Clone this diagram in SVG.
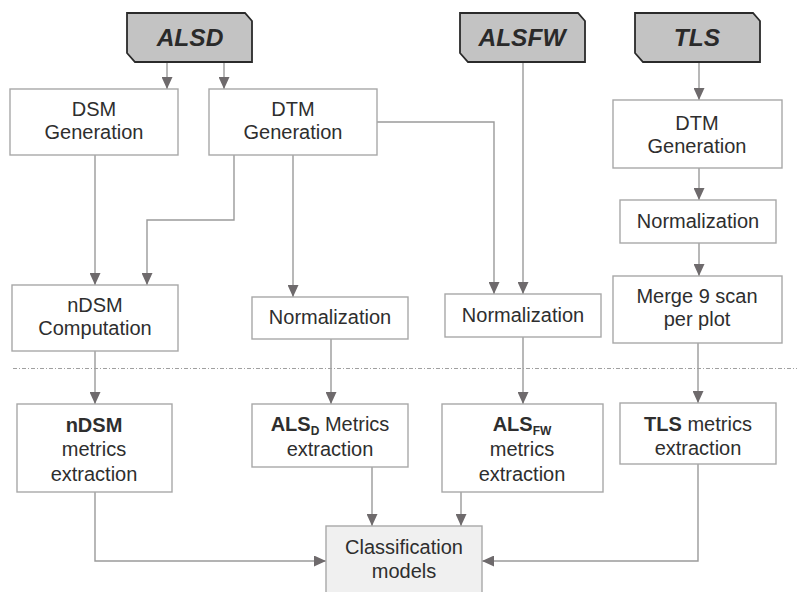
<svg xmlns="http://www.w3.org/2000/svg" width="797" height="592" viewBox="0 0 797 592">
<defs>
<style>
.box{fill:#fff;stroke:#a8a8a8;stroke-width:1.4}
.cls{fill:#f0f0f0;stroke:#a8a8a8;stroke-width:1.4}
.src{fill:#c3c3c3;stroke:#2a2a2a;stroke-width:1.8}
.t{font-family:"Liberation Sans",Arial,sans-serif;font-size:20px;fill:#2e2e2e;text-anchor:middle}
.b{font-weight:bold}
.st{font-family:"Liberation Sans",Arial,sans-serif;font-size:24.5px;font-weight:bold;font-style:italic;fill:#2a2a2a;text-anchor:middle}
.c{fill:none;stroke:#9a9a9a;stroke-width:1.4}
</style>
<marker id="ah" viewBox="0 0 12 11" refX="12" refY="5.5" markerWidth="12" markerHeight="11" markerUnits="userSpaceOnUse" orient="auto">
<path d="M0,0 L12,5.5 L0,11 Z" fill="#6e6a6c"/>
</marker>
</defs>
<rect width="797" height="592" fill="#fff"/>

<g id="connectors">
<path class="c" d="M167,62 V89" marker-end="url(#ah)"/>
<path class="c" d="M224,62 V89" marker-end="url(#ah)"/>
<path class="c" d="M699,62 V100" marker-end="url(#ah)"/>
<path class="c" d="M523,62 V294" marker-end="url(#ah)"/>
<path class="c" d="M377,122 H494 V294" marker-end="url(#ah)"/>
<path class="c" d="M95,155 V285" marker-end="url(#ah)"/>
<path class="c" d="M234,155 V220 H147 V285" marker-end="url(#ah)"/>
<path class="c" d="M293,155 V297" marker-end="url(#ah)"/>
<path class="c" d="M699,168 V200" marker-end="url(#ah)"/>
<path class="c" d="M699,243 V276" marker-end="url(#ah)"/>
<path class="c" d="M95,351 V404" marker-end="url(#ah)"/>
<path class="c" d="M331,339 V404" marker-end="url(#ah)"/>
<path class="c" d="M523,337 V404" marker-end="url(#ah)"/>
<path class="c" d="M698,343 V403" marker-end="url(#ah)"/>
<path class="c" d="M372,467 V526" marker-end="url(#ah)"/>
<path class="c" d="M461,492 V526" marker-end="url(#ah)"/>
<path class="c" d="M95,492 V561 H326" marker-end="url(#ah)"/>
<path class="c" d="M698,464 V561 H482" marker-end="url(#ah)"/>
<line x1="13" y1="368.5" x2="797" y2="368.5" stroke="#a0a0a0" stroke-width="1" stroke-dasharray="4,2,1,2"/>
</g>

<g id="ALSD">
<path class="src" d="M127,13 H245 L252,21 V62 H135 L127,53 Z"/>
<text class="st" x="190" y="46">ALSD</text>
</g>
<g id="ALSFW">
<path class="src" d="M460,13 H578 L585,21 V62 H468 L460,53 Z"/>
<text class="st" x="522" y="46">ALSFW</text>
</g>
<g id="TLS">
<path class="src" d="M635,13 H753 L760,21 V62 H643 L635,53 Z"/>
<text class="st" x="697" y="46">TLS</text>
</g>

<g id="dsm-gen">
<rect class="box" x="10" y="89" width="168" height="66"/>
<text class="t" x="94" y="116">DSM</text>
<text class="t" x="94" y="139">Generation</text>
</g>
<g id="dtm-gen">
<rect class="box" x="209" y="89" width="168" height="66"/>
<text class="t" x="293" y="116">DTM</text>
<text class="t" x="293" y="139">Generation</text>
</g>
<g id="tls-dtm-gen">
<rect class="box" x="613" y="100" width="169" height="68"/>
<text class="t" x="697" y="130">DTM</text>
<text class="t" x="697" y="153">Generation</text>
</g>
<g id="tls-norm">
<rect class="box" x="620" y="200" width="156" height="43"/>
<text class="t" x="698" y="228">Normalization</text>
</g>
<g id="merge">
<rect class="box" x="613" y="276" width="169" height="67"/>
<text class="t" x="697" y="303">Merge 9 scan</text>
<text class="t" x="697" y="326">per plot</text>
</g>
<g id="ndsm-comp">
<rect class="box" x="12" y="285" width="166" height="66"/>
<text class="t" x="95" y="312">nDSM</text>
<text class="t" x="95" y="335">Computation</text>
</g>
<g id="dtm-norm">
<rect class="box" x="252" y="297" width="156" height="42"/>
<text class="t" x="330" y="324">Normalization</text>
</g>
<g id="alsfw-norm">
<rect class="box" x="445" y="294" width="156" height="43"/>
<text class="t" x="523" y="322">Normalization</text>
</g>
<g id="ndsm-metrics">
<rect class="box" x="17" y="404" width="155" height="88"/>
<text class="t b" x="94" y="432">nDSM</text>
<text class="t" x="94" y="456">metrics</text>
<text class="t" x="94" y="481">extraction</text>
</g>
<g id="alsd-metrics">
<rect class="box" x="252" y="404" width="156" height="63"/>
<text class="t" x="330" y="431"><tspan class="b">ALS</tspan><tspan class="b" font-size="12" dy="4">D</tspan><tspan dy="-4"> Metrics</tspan></text>
<text class="t" x="330" y="456">extraction</text>
</g>
<g id="alsfw-metrics">
<rect class="box" x="442" y="404" width="161" height="88"/>
<text class="t" x="522" y="431"><tspan class="b">ALS</tspan><tspan class="b" font-size="12" dy="4">FW</tspan></text>
<text class="t" x="522" y="456">metrics</text>
<text class="t" x="522" y="481">extraction</text>
</g>
<g id="tls-metrics">
<rect class="box" x="620" y="403" width="156" height="61"/>
<text class="t" x="698" y="431"><tspan class="b">TLS</tspan> metrics</text>
<text class="t" x="698" y="455">extraction</text>
</g>
<g id="classification">
<rect class="cls" x="326" y="526" width="156" height="72"/>
<text class="t" x="404" y="554">Classification</text>
<text class="t" x="404" y="578">models</text>
</g>
</svg>
